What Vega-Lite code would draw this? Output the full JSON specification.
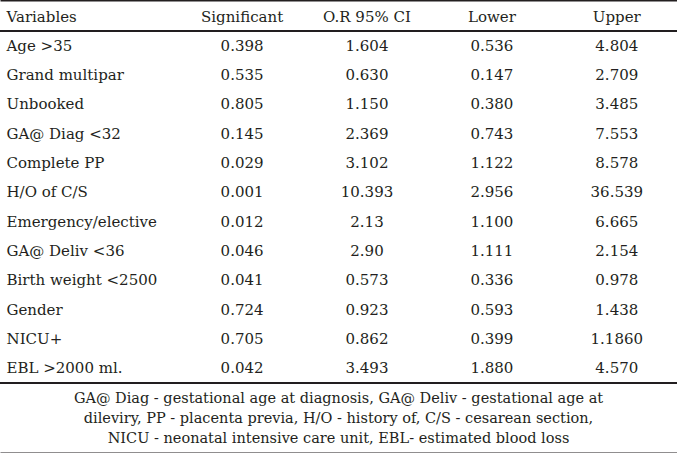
{
  "$schema": "https://vega.github.io/schema/vega-lite/v6.json",
  "width": 677,
  "height": 453,
  "padding": 0,
  "autosize": {"type": "none"},
  "background": "white",
  "config": {
    "view": {"stroke": null},
    "font": "DejaVu Serif",
    "text": {"font": "DejaVu Serif", "fontSize": 15, "color": "#231f20"},
    "rule": {"color": "#231f20"}
  },
  "datasets": {
    "table": [
      {"Variables": "Age >35", "Significant": "0.398", "OR": "1.604", "Lower": "0.536", "Upper": "4.804"},
      {"Variables": "Grand multipar", "Significant": "0.535", "OR": "0.630", "Lower": "0.147", "Upper": "2.709"},
      {"Variables": "Unbooked", "Significant": "0.805", "OR": "1.150", "Lower": "0.380", "Upper": "3.485"},
      {"Variables": "GA@ Diag <32", "Significant": "0.145", "OR": "2.369", "Lower": "0.743", "Upper": "7.553"},
      {"Variables": "Complete PP", "Significant": "0.029", "OR": "3.102", "Lower": "1.122", "Upper": "8.578"},
      {"Variables": "H/O of C/S", "Significant": "0.001", "OR": "10.393", "Lower": "2.956", "Upper": "36.539"},
      {"Variables": "Emergency/elective", "Significant": "0.012", "OR": "2.13", "Lower": "1.100", "Upper": "6.665"},
      {"Variables": "GA@ Deliv <36", "Significant": "0.046", "OR": "2.90", "Lower": "1.111", "Upper": "2.154"},
      {"Variables": "Birth weight <2500", "Significant": "0.041", "OR": "0.573", "Lower": "0.336", "Upper": "0.978"},
      {"Variables": "Gender", "Significant": "0.724", "OR": "0.923", "Lower": "0.593", "Upper": "1.438"},
      {"Variables": "NICU+", "Significant": "0.705", "OR": "0.862", "Lower": "0.399", "Upper": "1.1860"},
      {"Variables": "EBL >2000 ml.", "Significant": "0.042", "OR": "3.493", "Lower": "1.880", "Upper": "4.570"}
    ],
    "notes": [
      {"note": "GA@ Diag - gestational age at diagnosis, GA@ Deliv - gestational age at\ndileviry, PP - placenta previa, H/O - history of, C/S - cesarean section,\nNICU - neonatal intensive care unit, EBL- estimated blood loss"}
    ]
  },
  "layer": [
    {
      "data": {"name": "table"},
      "layer": [
        {
          "transform": [{"fold": ["Significant", "OR", "Lower", "Upper"], "as": ["column", "value"]}],
          "mark": {"type": "text", "align": "center", "baseline": "middle", "font": "DejaVu Serif", "fontSize": 15},
          "encoding": {
            "x": {
              "field": "column",
              "type": "nominal",
              "scale": {"type": "band", "domain": ["Significant", "OR", "Lower", "Upper"], "paddingInner": 0.58, "paddingOuter": 1, "align": 0.864},
              "axis": {
                "orient": "top",
                "title": null,
                "labelExpr": "datum.value == 'OR' ? 'O.R 95% CI' : datum.value",
                "labelAngle": 0,
                "labelPadding": -16,
                "labelBaseline": "middle",
                "labelFont": "DejaVu Serif",
                "labelFontSize": 15,
                "labelColor": "#231f20",
                "ticks": false,
                "tickSize": 0,
                "grid": false,
                "domain": true,
                "domainColor": "#231f20",
                "domainWidth": 2
              }
            },
            "y": {
              "field": "Variables",
              "type": "nominal",
              "sort": null,
              "scale": {"type": "band", "range": [31, 383], "paddingInner": 0, "paddingOuter": 0},
              "axis": {
                "orient": "left",
                "offset": -6,
                "title": "Variables",
                "titleAngle": 0,
                "titleAlign": "left",
                "titleBaseline": "middle",
                "titleX": 0,
                "titleY": 16,
                "titleFont": "DejaVu Serif",
                "titleFontSize": 15,
                "titleFontWeight": "normal",
                "titleColor": "#231f20",
                "labelAlign": "left",
                "labelBaseline": "middle",
                "labelPadding": 0,
                "labelFont": "DejaVu Serif",
                "labelFontSize": 15,
                "labelColor": "#231f20",
                "labelLimit": 400,
                "labelOverlap": false,
                "ticks": false,
                "tickSize": 0,
                "domain": false,
                "grid": false
              }
            },
            "text": {"field": "value"}
          }
        },
        {
          "mark": {"type": "rule", "strokeWidth": 1},
          "encoding": {
            "y": {"datum": "Age >35", "type": "nominal", "bandPosition": 0}
          }
        },
        {
          "mark": {"type": "rule", "strokeWidth": 1.5},
          "encoding": {
            "y": {"datum": "EBL >2000 ml.", "type": "nominal", "bandPosition": 1}
          }
        }
      ]
    },
    {
      "data": {"name": "notes"},
      "mark": {"type": "text", "align": "center", "baseline": "middle", "lineBreak": "\n", "lineHeight": 20, "fontSize": 14.5, "font": "DejaVu Serif"},
      "encoding": {
        "x": {
          "datum": "Footnote",
          "type": "nominal",
          "axis": {"orient": "bottom", "title": null, "labels": false, "ticks": false, "tickSize": 0, "grid": false, "domain": true, "domainColor": "#231f20", "domainWidth": 2}
        },
        "y": {"datum": "Footnote", "type": "nominal", "scale": {"type": "point", "range": [383, 414]}, "axis": null},
        "text": {"field": "note"}
      }
    }
  ],
  "resolve": {"scale": {"x": "independent", "y": "independent"}, "axis": {"x": "independent", "y": "independent"}}
}
